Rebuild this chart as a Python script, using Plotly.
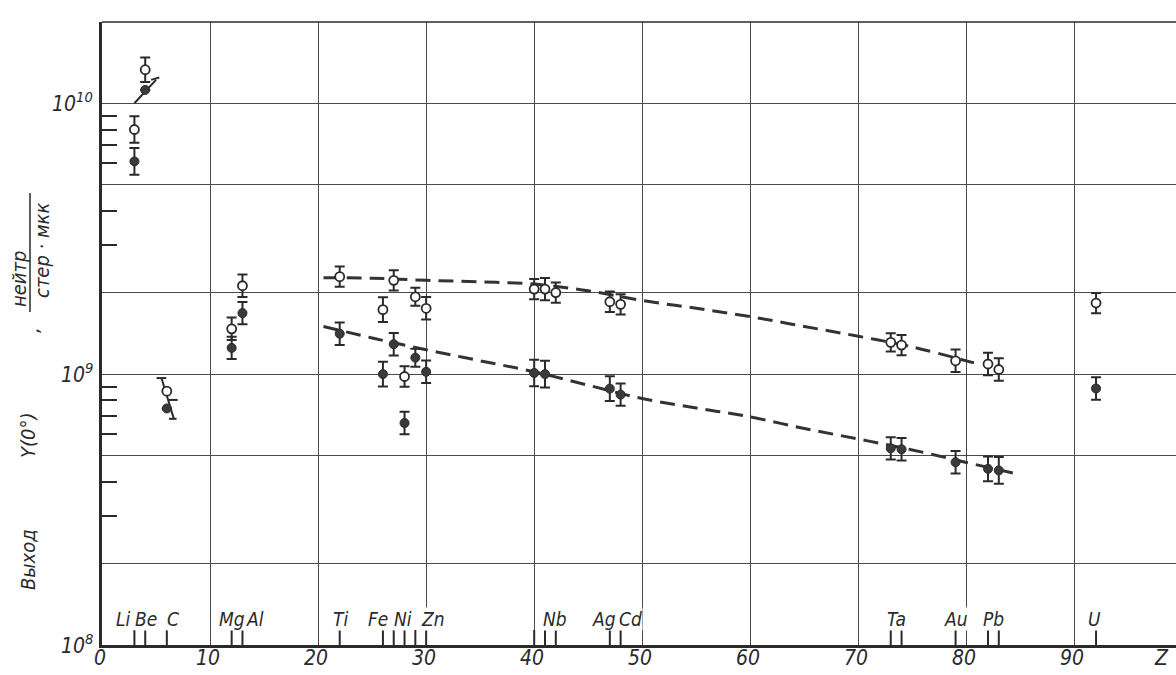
import math
import plotly.graph_objects as go

# ---------------- data ----------------
open_z = [3, 4, 6, 12, 13, 22, 26, 27, 28, 29, 30, 40, 41, 42, 47, 48, 73, 74, 79, 82, 83, 92]
open_y = [8.0e9, 1.33e10, 8.65e8, 1.47e9, 2.12e9, 2.29e9, 1.73e9, 2.22e9, 9.8e8, 1.93e9, 1.75e9,
          2.06e9, 2.06e9, 2.0e9, 1.85e9, 1.81e9, 1.31e9, 1.28e9, 1.12e9, 1.09e9, 1.04e9, 1.83e9]
open_err_pct = [12, 11, 0, 10, 10, 9, 11, 9, 9, 8, 10, 9, 10, 9, 9, 9, 8, 9, 10, 10, 10, 9]

fill_z = [3, 4, 6, 12, 13, 22, 26, 27, 28, 29, 30, 40, 41, 47, 48, 73, 74, 79, 82, 83, 92]
fill_y = [6.1e9, 1.12e10, 7.47e8, 1.25e9, 1.68e9, 1.41e9, 1.0e9, 1.29e9, 6.6e8, 1.15e9, 1.02e9,
          1.01e9, 1.0e9, 8.84e8, 8.4e8, 5.32e8, 5.28e8, 4.73e8, 4.47e8, 4.41e8, 8.85e8]
fill_err_pct = [12, 0, 0, 10, 10, 10, 11, 10, 10, 8, 10, 12, 12, 11, 10, 10, 10, 10, 11, 12, 10]

# dashed trend curves
upper_z = [20.5, 25, 30, 35, 40, 45, 50, 55, 60, 65, 70, 75, 80.7]
upper_y = [2.27e9, 2.26e9, 2.22e9, 2.19e9, 2.15e9, 2.03e9, 1.87e9, 1.75e9, 1.63e9, 1.50e9, 1.38e9, 1.26e9, 1.10e9]
lower_z = [20.5, 25, 30, 35, 40, 45, 50, 55, 60, 65, 70, 75, 80, 84.5]
lower_y = [1.50e9, 1.36e9, 1.23e9, 1.12e9, 1.02e9, 9.1e8, 8.13e8, 7.5e8, 6.95e8, 6.3e8, 5.76e8, 5.25e8, 4.72e8, 4.3e8]

# slanted error bars drawn for Be and C
be_slant_z = [3.0, 5.0, None, 4.55, 5.3]
be_slant_y = [1.0e10, 1.22e10, None, 1.22e10, 1.245e10]
c_slant_z = [5.05, 5.95, None, 5.5, 6.65, None, 6.2, 7.0, None, 6.2, 6.9]
c_slant_y = [9.67e8, 9.67e8, None, 9.67e8, 6.84e8, None, 8.03e8, 8.03e8, None, 6.84e8, 6.84e8]

# element markers on the Z axis
elem_tick_z = [3, 4, 6, 12, 13, 22, 26, 27, 28, 29, 30, 40, 41, 42, 47, 48, 73, 74, 79, 82, 83, 92]
elem_labels = ["Li", "Be", "C", "Mg", "Al", "Ti", "Fe", "Ni", "Zn", "Nb", "Ag", "Cd", "Ta", "Au", "Pb", "U"]
elem_label_z = [3, 4, 6, 12, 13, 22, 26, 28, 30, 41, 47, 48, 73, 79, 82, 92]

x_ticks = [0, 10, 20, 30, 40, 50, 60, 70, 80, 90]
y_grid = [1e8, 2e8, 5e8, 1e9, 2e9, 5e9, 1e10]
y_label_vals = [1e8, 1e9, 1e10]
y_label_text = ["10<sup>8</sup>", "10<sup>9</sup>", "10<sup>10</sup>"]
y_minor = [3e8, 4e8, 6e8, 7e8, 8e8, 9e8, 3e9, 4e9, 6e9, 7e9, 8e9, 9e9]

# ---------------- style / layout ----------------
FONT = "Liberation Sans Narrow, DejaVu Sans Condensed, Roboto Condensed, DejaVu Sans, sans-serif"
INK = "#2a2a2a"
L, R, T, B = 102, 1176, 22, 645
W, H = R - L, B - T
X_RANGE = [0, 99.4]
Y_RANGE = [8, 10.3]
PX_PER_DEC = H / (Y_RANGE[1] - Y_RANGE[0])
label_xshift = [-11, 1, 6, 0, 13, 1, -5, -2, 7, 10, -6, 10, 6, 0, 5, -2]


def xp(px):
    return (px - L) / W


def yp(py):
    return (B - py) / H


def err_plus(vals, pct):
    return [v * p / 100 for v, p in zip(vals, pct)]


def err_minus(vals, pct):
    return [v * (1 - 1 / (1 + p / 100)) for v, p in zip(vals, pct)]


fig = go.Figure()

# dashed curves
for zz, yy in [(upper_z, upper_y), (lower_z, lower_y)]:
    fig.add_trace(go.Scatter(x=zz, y=yy, mode="lines", line=dict(color="#333", width=3, dash="15px,8px", shape="spline"),
                             hoverinfo="skip", showlegend=False))

# element tick marks
tick_top = 10 ** (Y_RANGE[0] + 15 / PX_PER_DEC)
tx, ty = [], []
for z in elem_tick_z:
    tx += [z, z, None]
    ty += [10 ** Y_RANGE[0], tick_top, None]
fig.add_trace(go.Scatter(x=tx, y=ty, mode="lines", line=dict(color=INK, width=2), hoverinfo="skip", showlegend=False))

# slanted bars
for zz, yy in [(be_slant_z, be_slant_y), (c_slant_z, c_slant_y)]:
    fig.add_trace(go.Scatter(x=zz, y=yy, mode="lines", line=dict(color=INK, width=2), hoverinfo="skip", showlegend=False))

err_style = dict(type="data", symmetric=False, color=INK, thickness=2, width=5)

fig.add_trace(go.Scatter(
    x=fill_z, y=fill_y, mode="markers",
    marker=dict(symbol="circle", size=9, color="#3a3a3a", line=dict(color=INK, width=1)),
    error_y=dict(array=err_plus(fill_y, fill_err_pct), arrayminus=err_minus(fill_y, fill_err_pct), **err_style),
    showlegend=False))

fig.add_trace(go.Scatter(
    x=open_z, y=open_y, mode="markers",
    marker=dict(symbol="circle", size=9, color="white", line=dict(color=INK, width=1.8)),
    error_y=dict(array=err_plus(open_y, open_err_pct), arrayminus=err_minus(open_y, open_err_pct), **err_style),
    showlegend=False))

annotations = []
for name, z, dx in zip(elem_labels, elem_label_z, label_xshift):
    annotations.append(dict(x=z, y=yp(B - 26), xref="x", yref="paper", text=name, showarrow=False,
                            xshift=dx, xanchor="center", yanchor="middle", bgcolor="white", borderpad=0,
                            font=dict(family=FONT, size=19, color=INK, style="italic")))

# x tick labels (italic numbers under the axis) and the Z axis name
tick_font = dict(family=FONT, size=21, color=INK, style="italic")
for v in x_ticks:
    annotations.append(dict(x=v, y=yp(658), xref="x", yref="paper", text=str(v), showarrow=False,
                            xshift=-2, xanchor="center", yanchor="middle", font=tick_font))
annotations.append(dict(x=xp(1161), y=yp(658), xref="paper", yref="paper", text="Z", showarrow=False,
                        xanchor="center", yanchor="middle", font=tick_font))

# y tick labels (powers of ten); annotations on a log axis take log10 positions
for v, txt in zip(y_label_vals, y_label_text):
    annotations.append(dict(x=xp(95), y=math.log10(v), xref="paper", yref="y", text=txt, showarrow=False,
                            xanchor="right", yanchor="middle", yshift=1, font=tick_font))

ytitle_font = dict(family=FONT, size=20, color=INK, style="italic")
for txt, px_, py_ in [("Выход", 28, 560), ("Y(0°)", 28, 436), (",", 32, 330), ("нейтр", 19, 279), ("стер · мкк", 42, 251)]:
    annotations.append(dict(x=xp(px_), y=yp(py_), xref="paper", yref="paper", text=txt, showarrow=False,
                            textangle=-90, xanchor="center", yanchor="middle", font=ytitle_font))

shapes = [
    dict(type="line", xref="paper", yref="paper", x0=xp(30), x1=xp(30), y0=yp(312), y1=yp(193),
         line=dict(color=INK, width=1.5)),
    dict(type="line", xref="paper", yref="paper", x0=0, x1=1, y0=1, y1=1, line=dict(color=INK, width=1.6)),
]

fig.update_layout(
    width=1176, height=675,
    margin=dict(l=L, r=1176 - R, t=T, b=675 - B, autoexpand=False),
    paper_bgcolor="white", plot_bgcolor="white",
    annotations=annotations, shapes=shapes,
    xaxis=dict(range=X_RANGE, tickmode="array", tickvals=x_ticks, showticklabels=False,
               showgrid=True, gridcolor="#4a4a4a", gridwidth=1.2, zeroline=False,
               showline=True, linecolor=INK, linewidth=3, ticks=""),
    yaxis=dict(type="log", range=Y_RANGE, tickmode="array", tickvals=y_grid, showticklabels=False,
               showgrid=True, gridcolor="#4a4a4a", gridwidth=1.2, zeroline=False,
               showline=True, linecolor=INK, linewidth=2.5, ticks="",
               minor=dict(tickmode="array", tickvals=y_minor, ticks="inside", ticklen=15,
                          tickcolor=INK, tickwidth=1.5, showgrid=False)),
)

fig.write_html("out.html", config={"displayModeBar": False},
               post_script="document.body.style.margin='0';document.body.style.padding='0';")
